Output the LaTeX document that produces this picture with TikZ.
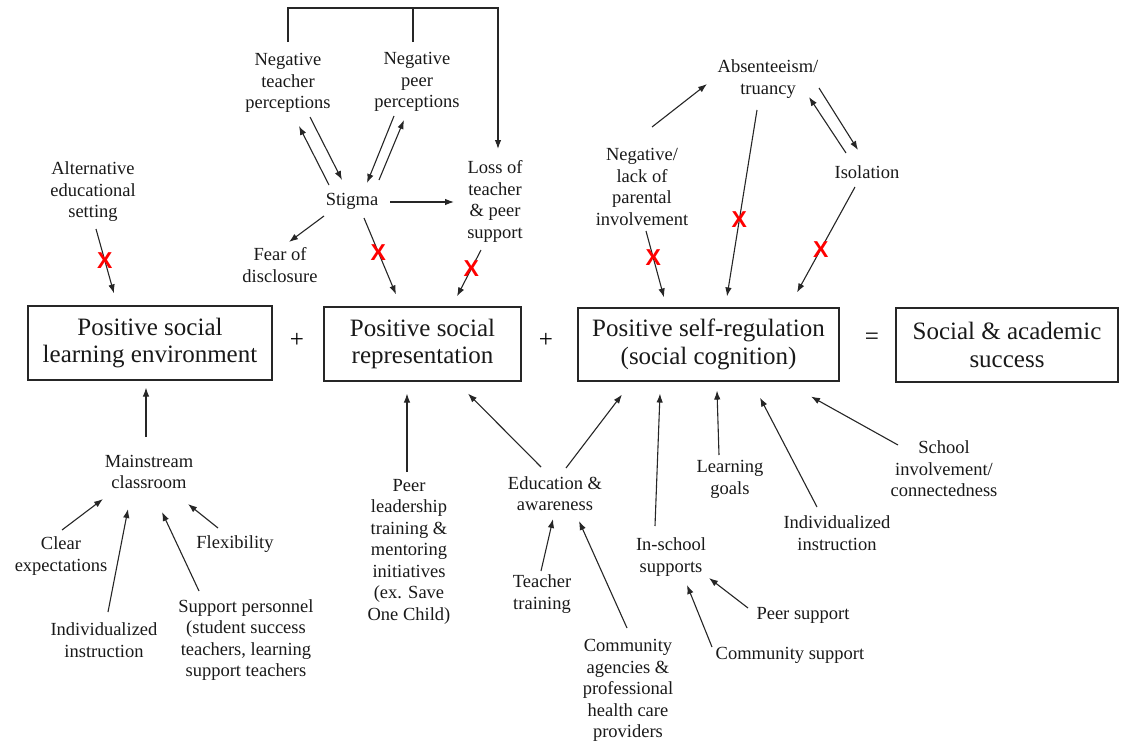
\documentclass[tikz,border=0pt]{standalone}
\usepackage{fontspec}
\setmainfont{Liberation Serif}
\newfontfamily\xfont{Liberation Sans}
\usetikzlibrary{arrows.meta}
\newcommand\lblfont{\fontsize{18.5}{21.5}\selectfont}
\newcommand\bxfont{\fontsize{25}{27.5}\selectfont}
\tikzset{
  lbl/.style={align=center, inner sep=0pt, font=\lblfont, text=black!90},
  bx/.style={draw=black!85, line width=1.1pt, align=center, inner sep=0pt, font=\bxfont, text=black!90},
  arr/.style={draw=black!85, line width=1.1pt, -{Latex[length=9pt,width=6.5pt]}},
  ln/.style={draw=black!85, line width=1.1pt},
  xmark/.style={text=red, font=\xfont\bfseries\fontsize{23}{23}\selectfont, inner sep=0pt},
}
\begin{document}
\begin{tikzpicture}[x=1pt,y=-1pt]
\useasboundingbox (0,0) rectangle (1122,744);
% boxes
\node[bx, minimum width=244pt, minimum height=74pt] (b1) at (150,343) {Positive social\\learning environment};
\node[bx, minimum width=197pt, minimum height=74pt] (b2) at (422.5,344) {Positive social\\representation};
\node[bx, minimum width=261pt, minimum height=73pt] (b3) at (708.5,344.5) {Positive self-regulation\\(social cognition)};
\node[bx, minimum width=222pt, minimum height=74pt] (b4) at (1007,345) {Social \& academic\\success};
\node[font=\bxfont, inner sep=0pt] (plus1) at (297,340) {+};
\node[font=\bxfont, inner sep=0pt] (plus2) at (546,340) {+};
\node[font=\bxfont, inner sep=0pt] (eq) at (872,339) {=};
% top labels
\node[lbl] (negT) at (288,83) {Negative\\teacher\\perceptions};
\node[lbl] (negP) at (417,82) {Negative\\peer\\perceptions};
\node[lbl] (loss) at (495,201.5) {Loss of\\teacher\\\& peer\\support};
\node[lbl] (stigma) at (352,201) {Stigma};
\node[lbl] (fear) at (280,265) {Fear of\\disclosure};
\node[lbl] (alt) at (93,192) {Alternative\\educational\\setting};
\node[lbl] (absent) at (768,79) {Absenteeism/\\truancy};
\node[lbl] (negpar) at (642,187) {Negative/\\lack of\\parental\\involvement};
\node[lbl] (isol) at (867,172) {Isolation};
% bottom labels
\node[lbl] (main) at (149,472) {Mainstream\\classroom};
\node[lbl] (clear) at (61,556) {Clear\\expectations};
\node[lbl] (ind1) at (104,640) {Individualized\\instruction};
\node[lbl] (support) at (246,640) {Support personnel\\(student success\\teachers, learning\\support teachers};
\node[lbl] (flex) at (235,544) {Flexibility};
\node[lbl] (peer) at (409,551.5) {Peer\\leadership\\training \&\\mentoring\\initiatives\\(ex. Save\\One Child)};
\node[lbl] (edu) at (555,493.5) {Education \&\\awareness};
\node[lbl] (tt) at (542,594) {Teacher\\training};
\node[lbl] (ca) at (628,690.5) {Community\\agencies \&\\professional\\health care\\providers};
\node[lbl] (insch) at (671,557) {In-school\\supports};
\node[lbl] (lg) at (730,479.5) {Learning\\goals};
\node[lbl] (ind2) at (837,533) {Individualized\\instruction};
\node[lbl] (school) at (944,469) {School\\involvement/\\connectedness};
\node[lbl] (ps) at (803,615) {Peer support};
\node[lbl] (cs) at (790,655) {Community support};
% top bracket
\draw[arr] ([shift={(0,-41)}]negT.center) -- ++(0,-34) -| ([shift={(3,-52.5)}]loss.center);
\draw[ln] ([shift={(-4,-40)}]negP.center) -- ++(0,-34);
% stigma cluster
\draw[arr] ([shift={(-23,-16)}]stigma.center) -- ([shift={(11,43)}]negT.center);
\draw[arr] ([shift={(22,34)}]negT.center) -- ([shift={(-10,-21)}]stigma.center);
\draw[arr] ([shift={(-23,34)}]negP.center) -- ([shift={(15,-18)}]stigma.center);
\draw[arr] ([shift={(27,-21)}]stigma.center) -- ([shift={(-13,38)}]negP.center);
\draw[arr] ([shift={(38,1)}]stigma.center) -- ([shift={(-41,0.5)}]loss.center);
\draw[arr] ([shift={(-28,15)}]stigma.center) -- ([shift={(9,-23)}]fear.center);
\draw[arr] ([shift={(12,17)}]stigma.center) -- node[xmark, pos=0.45] (x1) {X} ([shift={(-26.5,-12)}]b2.north);
\draw[arr] ([shift={(-14,48.5)}]loss.center) -- node[xmark, pos=0.4] (x2) {X} ([shift={(34.5,-10)}]b2.north);
\draw[arr] ([shift={(3,37)}]alt.center) -- node[xmark, pos=0.49] (x3) {X} ([shift={(-36,-12)}]b1.north);
% absenteeism cluster
\draw[arr] ([shift={(10,-60)}]negpar.center) -- ([shift={(-61,5)}]absent.center);
\draw[arr] ([shift={(-11,31)}]absent.center) -- node[xmark, pos=0.59] (x4) {X} ([shift={(18.5,-11)}]b3.north);
\draw[arr] ([shift={(-21,-19)}]isol.center) -- ([shift={(41,18)}]absent.center);
\draw[arr] ([shift={(51,9)}]absent.center) -- ([shift={(-9,-22)}]isol.center);
\draw[arr] ([shift={(-12,15)}]isol.center) -- node[xmark, pos=0.59] (x5) {X} ([shift={(88.5,-15)}]b3.north);
\draw[arr] ([shift={(4,44)}]negpar.center) -- node[xmark, pos=0.4] (x6) {X} ([shift={(-44.5,-10)}]b3.north);
% bottom left
\draw[arr] ([shift={(-3,-35)}]main.center) -- ([shift={(-4,7)}]b1.south);
\draw[arr] ([shift={(1,-26)}]clear.center) -- ([shift={(-46,27)}]main.center);
\draw[arr] ([shift={(4,-28)}]ind1.center) -- ([shift={(-21,37)}]main.center);
\draw[arr] ([shift={(-47,-49)}]support.center) -- ([shift={(13,40)}]main.center);
\draw[arr] ([shift={(-17,-16)}]flex.center) -- ([shift={(39,32)}]main.center);
% bottom middle
\draw[arr] ([shift={(-2,-79.5)}]peer.center) -- ([shift={(-15.5,12)}]b2.south);
\draw[arr] ([shift={(-14,-26.5)}]edu.center) -- ([shift={(45.5,12)}]b2.south);
\draw[arr] ([shift={(11,-25.5)}]edu.center) -- ([shift={(-86.5,13)}]b3.south);
\draw[arr] ([shift={(-1,-23)}]tt.center) -- ([shift={(-2,25.5)}]edu.center);
\draw[arr] ([shift={(-1,-62.5)}]ca.center) -- ([shift={(24,27.5)}]edu.center);
% bottom right
\draw[arr] ([shift={(-16,-31)}]insch.center) -- ([shift={(-48.5,12)}]b3.south);
\draw[arr] ([shift={(-11,-24.5)}]lg.center) -- ([shift={(8.5,9)}]b3.south);
\draw[arr] ([shift={(-20,-26)}]ind2.center) -- ([shift={(51.5,16)}]b3.south);
\draw[arr] ([shift={(-46,-24)}]school.center) -- ([shift={(102.5,15)}]b3.south);
\draw[arr] ([shift={(-55,-7)}]ps.center) -- ([shift={(38,21)}]insch.center);
\draw[arr] ([shift={(-78,-8)}]cs.center) -- ([shift={(16,28)}]insch.center);
\end{tikzpicture}
\end{document}
